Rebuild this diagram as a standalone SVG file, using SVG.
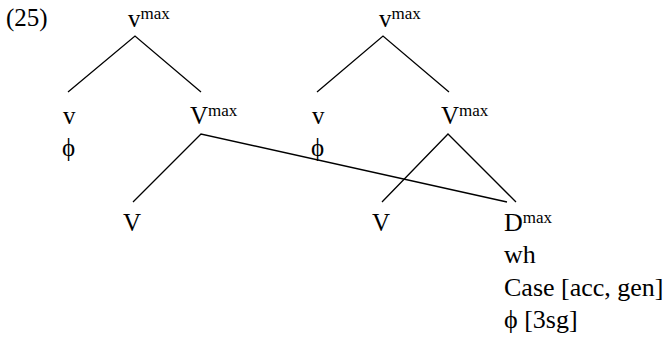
<svg xmlns="http://www.w3.org/2000/svg" width="669" height="345" viewBox="0 0 669 345">
<style>
text{font-family:"Liberation Serif","Times New Roman",serif;font-size:25px;fill:#000}
.sup{font-size:17px}
.big{font-size:26px}
.edge{stroke:#000;stroke-width:1.3;fill:none}
</style>
<rect width="669" height="345" fill="#fff"/>
<text x="6" y="26">(25)</text>
<g id="t1-vmax"><text x="128" y="27">v<tspan class="sup" dy="-8">max</tspan></text></g>
<g id="t1-v"><text x="63" y="124">v</text><text x="62" y="156">ϕ</text></g>
<g id="t1-Vmax"><text x="190" y="124">V<tspan class="sup" dy="-8">max</tspan></text></g>
<g id="t1-V"><text x="123" y="231">V</text></g>
<g id="t2-vmax"><text x="379" y="27">v<tspan class="sup" dy="-8">max</tspan></text></g>
<g id="t2-v"><text x="312" y="124">v</text><text x="311" y="156">ϕ</text></g>
<g id="t2-Vmax"><text x="441" y="124">V<tspan class="sup" dy="-8">max</tspan></text></g>
<g id="t2-V"><text x="372" y="231">V</text></g>
<g id="t2-Dmax" class="big"><text x="504" y="231" class="big">D<tspan class="sup" dy="-8">max</tspan></text><text x="504" y="263" class="big">wh</text><text x="504" y="296" class="big">Case [acc, gen]</text><text x="504" y="328" class="big">ϕ [3sg]</text></g>
<g id="connectors">
<path class="edge" d="M68,92 L135,36 L201,92"/>
<path class="edge" d="M133,202 L201,134 L507,202"/>
<path class="edge" d="M317,92 L383,36 L449,92"/>
<path class="edge" d="M382,202 L448,134 L516,202"/>
</g>
</svg>
